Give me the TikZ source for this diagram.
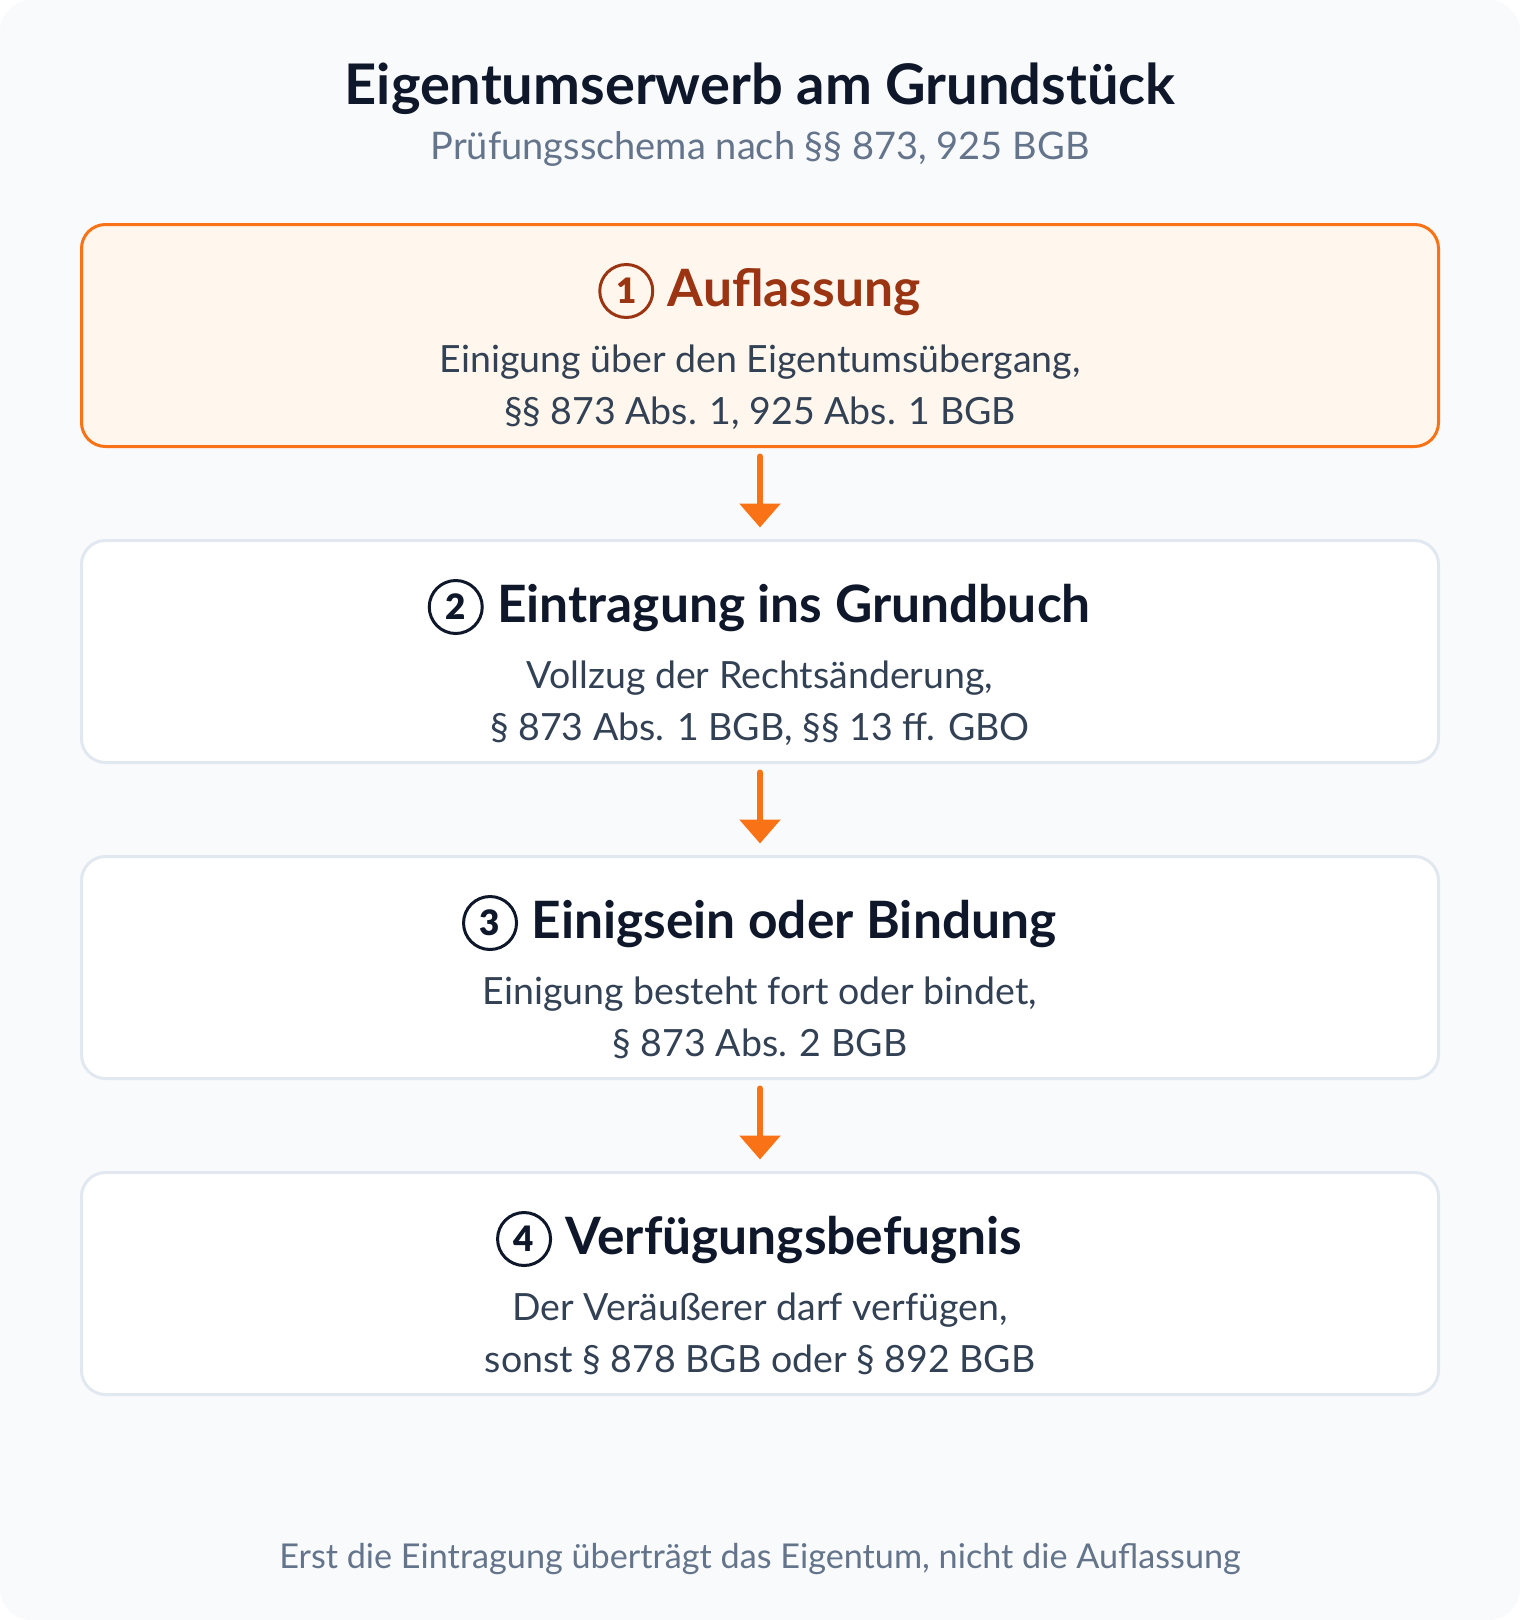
\documentclass[tikz,border=0pt]{standalone}
\usepackage{fontspec}
\setmainfont{Lato}
\newfontfamily\numfont{Lato Black}
\usetikzlibrary{arrows.meta}

\definecolor{bgpanel}{HTML}{F8FAFC}
\definecolor{ink}{HTML}{0F172A}
\definecolor{slate}{HTML}{334155}
\definecolor{muted}{HTML}{64748B}
\definecolor{rim}{HTML}{E2E8F0}
\definecolor{accent}{HTML}{F97316}
\definecolor{accentfill}{HTML}{FFF7ED}
\definecolor{accentink}{HTML}{9A3412}

\begin{document}
\begin{tikzpicture}[x=1pt, y=-1pt,
    stepbox/.style={draw=rim, fill=white, line width=3pt, rounded corners=24pt,
                    minimum width=1357pt, minimum height=222pt, inner sep=0pt},
    keybox/.style={stepbox, draw=accent, fill=accentfill},
    head/.style={anchor=base, text=ink, font=\fontsize{51.5}{60}\selectfont\bfseries},
    numdot/.style={circle, draw=ink, text=ink, line width=3pt, minimum size=53pt,
                   inner sep=0pt, font=\fontsize{35}{35}\selectfont\numfont},
    body/.style={anchor=base, text=slate, font=\fontsize{37.5}{44}\selectfont},
    flow/.style={draw=accent, line width=6pt, line cap=round,
                 -{Triangle[width=40pt, length=24pt]}}]
      \useasboundingbox (0,0) rectangle (1520,1620);
      \fill[white] (0,0) rectangle (1520,1620);
      \fill[bgpanel, rounded corners=32pt] (0,0) rectangle (1520,1620);

      % title
      \node[anchor=base, text=ink, font=\fontsize{56}{64}\selectfont\bfseries] (title) at (760,104) {Eigentumserwerb am Grundstück};
      \node[anchor=base, text=muted, font=\fontsize{38}{44}\selectfont] (subtitle) at (760,159) {Prüfungsschema nach §§ 873, 925 BGB};

      % steps
      \node[keybox] (box1) at (760,335.5) {};
      \node[stepbox] (box2) at (760,651.5) {};
      \node[stepbox] (box3) at (760,967.5) {};
      \node[stepbox] (box4) at (760,1283.5) {};

      \node[head, text=accentink] (head1) at ([xshift=34pt, yshift=-83pt]box1.north) {Auflassung};
      \node[numdot, draw=accentink, text=accentink] (num1) at ([xshift=-38pt, yshift=15pt]head1.base west) {1};
      \node[body] (line1a) at ([yshift=-149pt]box1.north) {Einigung über den Eigentumsübergang,};
      \node[body] (line1b) at ([yshift=-201pt]box1.north) {§§ 873 Abs. 1, 925 Abs. 1 BGB};

      \node[head] (head2) at ([xshift=34pt, yshift=-83pt]box2.north) {Eintragung ins Grundbuch};
      \node[numdot] (num2) at ([xshift=-38pt, yshift=15pt]head2.base west) {2};
      \node[body] (line2a) at ([yshift=-149pt]box2.north) {Vollzug der Rechtsänderung,};
      \node[body] (line2b) at ([yshift=-201pt]box2.north) {§ 873 Abs. 1 BGB, §§ 13 ff. GBO};

      \node[head] (head3) at ([xshift=34pt, yshift=-83pt]box3.north) {Einigsein oder Bindung};
      \node[numdot] (num3) at ([xshift=-38pt, yshift=15pt]head3.base west) {3};
      \node[body] (line3a) at ([yshift=-149pt]box3.north) {Einigung besteht fort oder bindet,};
      \node[body] (line3b) at ([yshift=-201pt]box3.north) {§ 873 Abs. 2 BGB};

      \node[head] (head4) at ([xshift=34pt, yshift=-83pt]box4.north) {Verfügungsbefugnis};
      \node[numdot] (num4) at ([xshift=-38pt, yshift=15pt]head4.base west) {4};
      \node[body] (line4a) at ([yshift=-149pt]box4.north) {Der Veräußerer darf verfügen,};
      \node[body] (line4b) at ([yshift=-201pt]box4.north) {sonst § 878 BGB oder § 892 BGB};

      % arrows between steps
      \draw[flow] ([yshift=-8.5pt]box1.south) -- ([yshift=11.5pt]box2.north);
      \draw[flow] ([yshift=-8.5pt]box2.south) -- ([yshift=11.5pt]box3.north);
      \draw[flow] ([yshift=-8.5pt]box3.south) -- ([yshift=11.5pt]box4.north);

      % footnote
      \node[anchor=base, text=muted, font=\fontsize{34.2}{40}\selectfont] (note) at (760,1568) {Erst die Eintragung überträgt das Eigentum, nicht die Auflassung};
\end{tikzpicture}
\end{document}
